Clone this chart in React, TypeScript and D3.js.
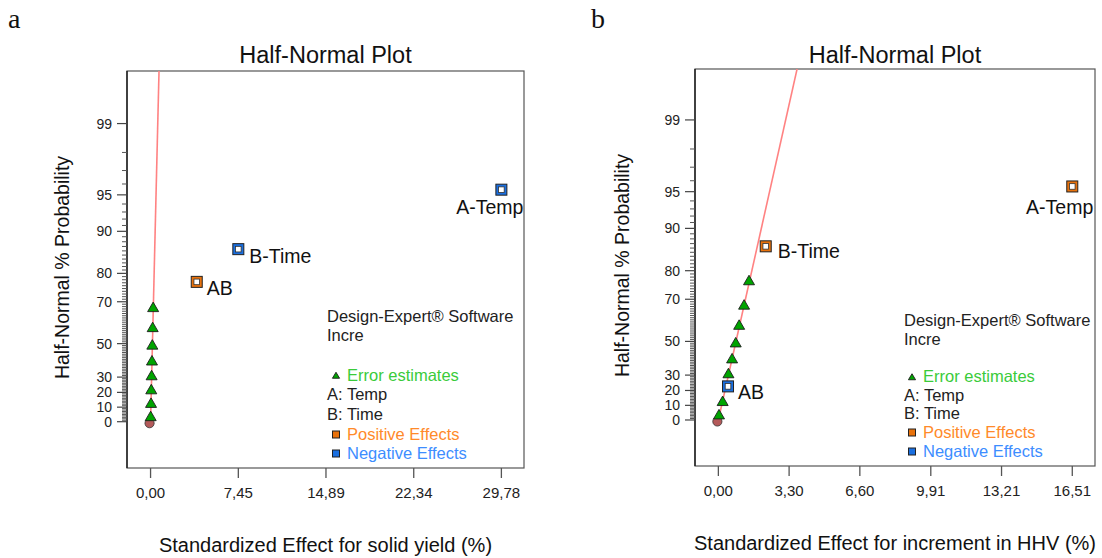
import React from "react";
import * as d3 from "d3";

// ---------- data ----------
const yMajorPct = [0, 10, 20, 30, 50, 70, 80, 90, 95, 99];

const leftXTicks = [0, 7.45, 14.89, 22.34, 29.78];
const leftXTickLabels = ["0,00", "7,45", "14,89", "22,34", "29,78"];
const rightXTicks = [0, 3.3, 6.6, 9.91, 13.21, 16.51];
const rightXTickLabels = ["0,00", "3,30", "6,60", "9,91", "13,21", "16,51"];

// error estimates (effect, half-normal %)
const leftErrEffect = [0.01, 0.04, 0.06, 0.09, 0.12, 0.15, 0.18, 0.22];
const leftErrPct = [4.5, 13.6, 22.7, 31.8, 40.9, 50, 59.1, 68.2];
const rightErrEffect = [0.03, 0.2, 0.47, 0.64, 0.81, 0.97, 1.2, 1.43];
const rightErrPct = [4.5, 13.6, 31.8, 40.9, 50, 59.1, 68.2, 77.3];

// significant effects
const leftEffName = ["AB", "B-Time", "A-Temp"];
const leftEffValue = [3.92, 7.45, 29.78];
const leftEffPct = [77.3, 86.4, 95.5];
const leftEffSign = ["pos", "neg", "neg"];
const rightEffName = ["AB", "B-Time", "A-Temp"];
const rightEffValue = [0.45, 2.21, 16.51];
const rightEffPct = [22.7, 86.4, 95.5];
const rightEffSign = ["neg", "pos", "pos"];

// fitted half-normal line: effect value reached at 99.9 %
const leftLineEnd = 0.78;
const rightLineEnd = 4.01;
const lineTopPct = 99.9;

const legendLines = ["A: Temp", "B: Time"];

// ---------- helpers ----------
function invNorm(p: number): number {
  const a = [-3.969683028665376e1, 2.209460984245205e2, -2.759285104469687e2, 1.38357751867269e2, -3.066479806614716e1, 2.506628277459239];
  const b = [-5.447609879822406e1, 1.615858368580409e2, -1.556989798598866e2, 6.680131188771972e1, -1.328068155288572e1];
  const c = [-7.784894002430293e-3, -3.223964580411365e-1, -2.400758277161838, -2.549732539343734, 4.374664141464968, 2.938163982698783];
  const d = [7.784695709041462e-3, 3.224671290700398e-1, 2.445134137142996, 3.754408661907416];
  const pl = 0.02425, ph = 1 - pl;
  if (p < pl) {
    const q = Math.sqrt(-2 * Math.log(p));
    return (((((c[0] * q + c[1]) * q + c[2]) * q + c[3]) * q + c[4]) * q + c[5]) / ((((d[0] * q + d[1]) * q + d[2]) * q + d[3]) * q + 1);
  }
  if (p <= ph) {
    const q = p - 0.5, r = q * q;
    return ((((((a[0] * r + a[1]) * r + a[2]) * r + a[3]) * r + a[4]) * r + a[5]) * q) / (((((b[0] * r + b[1]) * r + b[2]) * r + b[3]) * r + b[4]) * r + 1);
  }
  const q = Math.sqrt(-2 * Math.log(1 - p));
  return -(((((c[0] * q + c[1]) * q + c[2]) * q + c[3]) * q + c[4]) * q + c[5]) / ((((d[0] * q + d[1]) * q + d[2]) * q + d[3]) * q + 1);
}
const halfNormZ = (pct: number) => invNorm(0.5 + pct / 200);

const FONT = "'Liberation Sans', Arial, sans-serif";
const GREEN = "#00a400";
const ORANGE_FILL = "#e8720c";
const BLUE_FILL = "#1a6fe0";
const GREEN_TXT = "#3acb3a";
const ORANGE_TXT = "#ff8a2a";
const BLUE_TXT = "#3d8dff";
const LINE_RED = "#ff8282";

function Triangle({ x, y, s = 1 }: { x: number; y: number; s?: number }) {
  const h = 5 * s, w = 5.5 * s;
  return (
    <path
      d={`M${x},${y - h} L${x + w},${y + h - 0.5} L${x - w},${y + h - 0.5} Z`}
      fill={GREEN}
      stroke="#1c1c1c"
      strokeWidth={0.9}
    />
  );
}

function HollowSquare({ x, y, color }: { x: number; y: number; color: string }) {
  return (
    <g>
      <rect x={x - 5.5} y={y - 5.5} width={11} height={11} fill={color} stroke="#222" strokeWidth={1} />
      <rect x={x - 2.8} y={y - 2.8} width={5.6} height={5.6} fill="#fff" stroke="#333" strokeWidth={0.8} />
    </g>
  );
}

type PanelProps = {
  id: string;
  frame: { x0: number; x1: number; y0: number; y1: number };
  xDomain: [number, number];
  yDomain: [number, number];
  xTicks: number[];
  xTickLabels: string[];
  errEffect: number[];
  errPct: number[];
  effName: string[];
  effValue: number[];
  effPct: number[];
  effSign: string[];
  lineEnd: number;
  labelOffsets: [number, number, string][];
  xLabel: string;
  legend: { headX: number; markX: number; txtX: number; ys: number[] };
  xLabelY: number;
  yLabelX: number;
  panelLetter: string;
  letterX: number;
};

function Panel(p: PanelProps) {
  const { frame } = p;
  const xs = d3.scaleLinear().domain(p.xDomain).range([frame.x0, frame.x1]);
  const zs = d3.scaleLinear().domain(p.yDomain).range([frame.y1, frame.y0]);
  const yOf = (pct: number) => zs(halfNormZ(pct));
  const minorPct = d3.range(1, 99).filter((v) => !yMajorPct.includes(v));
  const lineGen = d3
    .line<[number, number]>()
    .x((d) => xs(d[0]))
    .y((d) => yOf(d[1]));
  const cx = (frame.x0 + frame.x1) / 2;
  const ly = p.legend.ys;
  return (
    <g>
      <text x={p.letterX} y={28} fontFamily="'Liberation Serif', 'DejaVu Serif', serif" fontSize={28} fill="#111">
        {p.panelLetter}
      </text>
      <text x={cx} y={63} textAnchor="middle" fontFamily={FONT} fontSize={23.5} fill="#111">
        Half-Normal Plot
      </text>
      <defs>
        <clipPath id={`clip-${p.id}`}>
          <rect x={frame.x0} y={frame.y0} width={frame.x1 - frame.x0} height={frame.y1 - frame.y0} />
        </clipPath>
      </defs>
      <rect x={frame.x0} y={frame.y0} width={frame.x1 - frame.x0} height={frame.y1 - frame.y0} fill="#fff" stroke="#555" strokeWidth={1.2} />
      <line x1={frame.x0} x2={frame.x0} y1={frame.y0} y2={frame.y1} stroke="#111" strokeWidth={1.3} />
      {/* y ticks */}
      {minorPct.map((v) => (
        <line key={`m${v}`} x1={frame.x0 - 5} x2={frame.x0} y1={yOf(v)} y2={yOf(v)} stroke="#555" strokeWidth={1} />
      ))}
      {yMajorPct.map((v) => (
        <g key={`M${v}`}>
          <line x1={frame.x0 - 10} x2={frame.x0} y1={yOf(v)} y2={yOf(v)} stroke="#444" strokeWidth={1.2} />
          <text x={frame.x0 - 15} y={yOf(v)} textAnchor="end" dominantBaseline="central" fontFamily={FONT} fontSize={14} fill="#222">
            {v}
          </text>
        </g>
      ))}
      {/* x ticks */}
      {p.xTicks.map((v, i) => (
        <g key={`x${i}`}>
          <line x1={xs(v)} x2={xs(v)} y1={frame.y1} y2={frame.y1 + 10} stroke="#555" strokeWidth={1.3} />
          <text x={xs(v)} y={frame.y1 + 24} textAnchor="middle" dominantBaseline="central" fontFamily={FONT} fontSize={15} fill="#222">
            {p.xTickLabels[i]}
          </text>
        </g>
      ))}
      <text x={cx} y={p.xLabelY} textAnchor="middle" dominantBaseline="central" fontFamily={FONT} fontSize={20} fill="#111">
        {p.xLabel}
      </text>
      <text
        transform={`translate(${p.yLabelX},${(frame.y0 + frame.y1) / 2 - 2}) rotate(-90)`}
        textAnchor="middle"
        dominantBaseline="central"
        fontFamily={FONT}
        fontSize={19.5}
        fill="#111"
      >
        Half-Normal % Probability
      </text>
      {/* fitted line */}
      <g clipPath={`url(#clip-${p.id})`}>
        <path d={lineGen([[0, 0], [p.lineEnd, lineTopPct]]) || ""} fill="none" stroke={LINE_RED} strokeWidth={1.6} />
      </g>
      {/* origin circle */}
      <circle cx={xs(0) - 1} cy={yOf(0) + 1.5} r={4.6} fill="#b45a5a" stroke="#333" strokeWidth={0.8} />
      {p.errEffect.map((v, i) => (
        <Triangle key={`t${i}`} x={xs(v)} y={yOf(p.errPct[i]) + 1} />
      ))}
      {p.effValue.map((v, i) => {
        const x = xs(v), y = yOf(p.effPct[i]);
        const off = p.labelOffsets[i];
        return (
          <g key={`e${i}`}>
            <HollowSquare x={x} y={y} color={p.effSign[i] === "pos" ? ORANGE_FILL : BLUE_FILL} />
            <text x={x + off[0]} y={y + off[1]} textAnchor={off[2]} dominantBaseline="central" fontFamily={FONT} fontSize={19.5} fill="#111">
              {p.effName[i]}
            </text>
          </g>
        );
      })}
      {/* legend */}
      <g fontFamily={FONT} fontSize={16.5}>
        <text x={p.legend.headX} y={ly[0]} dominantBaseline="central" fill="#222">Design-Expert® Software</text>
        <text x={p.legend.headX} y={ly[1]} dominantBaseline="central" fill="#222">Incre</text>
        <Triangle x={p.legend.markX} y={ly[2] + 1} s={0.65} />
        <text x={p.legend.txtX} y={ly[2]} dominantBaseline="central" fill={GREEN_TXT}>Error estimates</text>
        <text x={p.legend.headX} y={ly[3]} dominantBaseline="central" fill="#222">{legendLines[0]}</text>
        <text x={p.legend.headX} y={ly[4]} dominantBaseline="central" fill="#222">{legendLines[1]}</text>
        <rect x={p.legend.markX - 3.5} y={ly[5] - 2.5} width={7} height={7} fill={ORANGE_FILL} stroke="#222" strokeWidth={1} />
        <text x={p.legend.txtX} y={ly[5]} dominantBaseline="central" fill={ORANGE_TXT}>Positive Effects</text>
        <rect x={p.legend.markX - 3.5} y={ly[6] - 2.5} width={7} height={7} fill={BLUE_FILL} stroke="#222" strokeWidth={1} />
        <text x={p.legend.txtX} y={ly[6]} dominantBaseline="central" fill={BLUE_TXT}>Negative Effects</text>
      </g>
    </g>
  );
}

export default function App() {
  return (
    <svg
      width={1102}
      height={558}
      viewBox="0 0 1102 558"
      style={{ position: "absolute", left: 0, top: 0, display: "block", background: "#fff" }}
    >
      <rect x={0} y={0} width={1102} height={558} fill="#fff" />
      <Panel
        id="a"
        panelLetter="a"
        letterX={8}
        frame={{ x0: 127, x1: 524, y0: 71, y1: 468 }}
        xDomain={[-2.0, 31.7]}
        yDomain={[-0.4, 3.03]}
        xTicks={leftXTicks}
        xTickLabels={leftXTickLabels}
        errEffect={leftErrEffect}
        errPct={leftErrPct}
        effName={leftEffName}
        effValue={leftEffValue}
        effPct={leftEffPct}
        effSign={leftEffSign}
        lineEnd={leftLineEnd}
        labelOffsets={[[10, 6, "start"], [11, 7, "start"], [22, 17, "end"]]}
        xLabel="Standardized Effect for solid yield (%)"
        xLabelY={545}
        yLabelX={62}
        legend={{ headX: 327, markX: 336, txtX: 347, ys: [315.5, 335, 374.5, 394, 414, 433.5, 452.5] }}
      />
      <Panel
        id="b"
        panelLetter="b"
        letterX={591}
        frame={{ x0: 695, x1: 1095, y0: 69, y1: 466 }}
        xDomain={[-1.09, 17.57]}
        yDomain={[-0.395, 3.013]}
        xTicks={rightXTicks}
        xTickLabels={rightXTickLabels}
        errEffect={rightErrEffect}
        errPct={rightErrPct}
        effName={rightEffName}
        effValue={rightEffValue}
        effPct={rightEffPct}
        effSign={rightEffSign}
        lineEnd={rightLineEnd}
        labelOffsets={[[10, 6, "start"], [12, 5, "start"], [21, 21, "end"]]}
        xLabel="Standardized Effect for increment in HHV (%)"
        xLabelY={543}
        yLabelX={622}
        legend={{ headX: 904, markX: 912, txtX: 923, ys: [320, 338.5, 376, 395, 413, 431.5, 450.5] }}
      />
    </svg>
  );
}
